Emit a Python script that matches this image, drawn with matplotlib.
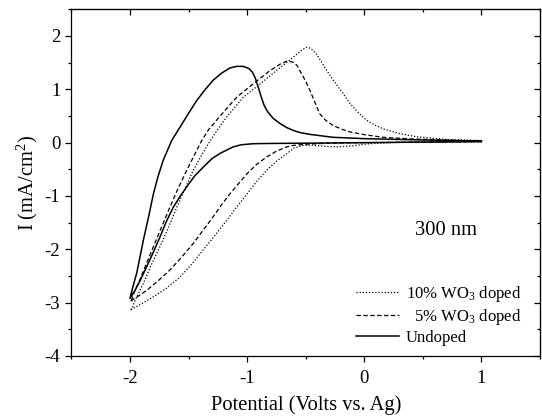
import matplotlib
matplotlib.use('Agg')
import matplotlib.pyplot as plt
from matplotlib.ticker import MultipleLocator

plt.rcParams['font.family'] = ['Liberation Serif', 'DejaVu Serif']
plt.rcParams['mathtext.fontset'] = 'custom'
plt.rcParams['mathtext.rm'] = 'Liberation Serif'
plt.rcParams['mathtext.it'] = 'Liberation Serif:italic'
plt.rcParams['axes.unicode_minus'] = False

# cyclic voltammograms, loop starts at +1 V, goes to -2 V and back
undoped_x = [1.0, 0.5, 0.0, -0.5, -0.8, -0.95, -1.05, -1.12, -1.23, -1.3, -1.375,
             -1.45, -1.516, -1.57, -1.63, -1.69, -1.744, -1.8, -1.858, -1.91, -1.957, -2.0,
             -1.975, -1.943, -1.915, -1.886, -1.84, -1.8, -1.76, -1.716, -1.644, -1.573,
             -1.5, -1.43, -1.36, -1.29, -1.22, -1.147, -1.09, -1.033, -0.985, -0.955,
             -0.93, -0.905, -0.88, -0.855, -0.825, -0.78, -0.72, -0.66, -0.607, -0.55,
             -0.464, -0.265, 0.0, 0.3, 0.6, 1.0]
undoped_y = [0.02, 0.01, 0.0, -0.01, -0.015, -0.02, -0.04, -0.08, -0.2, -0.3, -0.46,
             -0.63, -0.83, -1.0, -1.21, -1.48, -1.77, -2.05, -2.33, -2.57, -2.77, -2.92,
             -2.7, -2.45, -2.15, -1.83, -1.38, -0.96, -0.63, -0.33, 0.04, 0.29,
             0.55, 0.79, 0.99, 1.17, 1.3, 1.4, 1.43, 1.43, 1.39, 1.32,
             1.21, 1.04, 0.86, 0.7, 0.58, 0.46, 0.36, 0.28, 0.23, 0.19,
             0.155, 0.1, 0.075, 0.06, 0.045, 0.03]

doped5_x = [1.0, 0.5, 0.0, -0.3, -0.5, -0.6, -0.663, -0.75, -0.834, -0.92, -1.0,
            -1.07, -1.147, -1.22, -1.29, -1.375, -1.46, -1.56, -1.66, -1.76, -1.858,
            -1.93, -2.0,
            -1.986, -1.96, -1.915, -1.86, -1.8, -1.73, -1.659, -1.59, -1.516, -1.45,
            -1.39, -1.33, -1.23, -1.09, -0.95, -0.805, -0.72, -0.66, -0.607, -0.575,
            -0.55, -0.5, -0.464, -0.42, -0.38, -0.33, -0.265, -0.19, -0.12, 0.0,
            0.16, 0.4, 0.7, 1.0]
doped5_y = [0.02, 0.01, 0.0, -0.01, -0.03, -0.05, -0.08, -0.16, -0.27, -0.41, -0.58,
            -0.76, -0.96, -1.17, -1.39, -1.64, -1.89, -2.15, -2.39, -2.59, -2.77,
            -2.88, -2.98,
            -2.95, -2.78, -2.57, -2.27, -1.95, -1.58, -1.21, -0.86, -0.52, -0.23,
            0.03, 0.24, 0.5, 0.85, 1.1, 1.35, 1.47, 1.53, 1.51, 1.45,
            1.35, 1.15, 0.98, 0.75, 0.54, 0.42, 0.32, 0.25, 0.2, 0.15,
            0.1, 0.07, 0.05, 0.03]

doped10_x = [1.0, 0.6, 0.3, 0.1, 0.0, -0.1, -0.22, -0.33, -0.43, -0.52, -0.6,
             -0.663, -0.75, -0.834, -0.92, -1.0, -1.09, -1.175, -1.275, -1.375, -1.47,
             -1.573, -1.69, -1.8, -1.9, -2.0,
             -1.986, -1.95, -1.886, -1.82, -1.744, -1.67, -1.6, -1.53, -1.46, -1.4,
             -1.317, -1.26, -1.175, -1.033, -0.89, -0.75, -0.607, -0.53, -0.49, -0.46,
             -0.41, -0.34, -0.265, -0.19, -0.12, -0.05, 0.02, 0.09, 0.16, 0.3,
             0.45, 0.7, 1.0]
doped10_y = [0.02, 0.01, 0.005, -0.01, -0.03, -0.06, -0.08, -0.07, -0.05, -0.05, -0.1,
             -0.21, -0.35, -0.52, -0.73, -0.96, -1.21, -1.46, -1.74, -2.01, -2.27,
             -2.52, -2.73, -2.89, -3.02, -3.14,
             -3.12, -2.93, -2.64, -2.3, -1.95, -1.58, -1.21, -0.86, -0.52, -0.28,
             0.03, 0.22, 0.48, 0.85, 1.1, 1.35, 1.6, 1.74, 1.79, 1.77,
             1.67, 1.42, 1.17, 0.95, 0.73, 0.56, 0.42, 0.33, 0.26, 0.17,
             0.11, 0.06, 0.04]

labels = ['10% WO$_3$ doped', '  5% WO$_3$ doped', 'Undoped']

fig = plt.figure(figsize=(5.42, 4.16), dpi=100)
ax = fig.add_axes([71.4 / 542, 60 / 416, 468.6 / 542, 346.7 / 416])

ax.plot(doped10_x, doped10_y, color='black', lw=0.9, linestyle=(0, (1, 1.5)), label=labels[0])
ax.plot(doped5_x, doped5_y, color='black', lw=0.9, linestyle=(0, (3.5, 2)), label=labels[1])
ax.plot(undoped_x, undoped_y, color='black', lw=1.1, linestyle='-', label=labels[2])

ax.set_xlim(-2.5, 1.5)
ax.set_ylim(-4, 2.5)
ax.xaxis.set_major_locator(MultipleLocator(1))
ax.xaxis.set_minor_locator(MultipleLocator(0.5))
ax.yaxis.set_major_locator(MultipleLocator(1))
ax.yaxis.set_minor_locator(MultipleLocator(0.5))
ax.set_yticks([2, 1, 0, -1, -2, -3, -4])

for s in ax.spines.values():
    s.set_linewidth(0.9)
ax.tick_params(which='both', width=0.9, labelsize=13.5)
ax.tick_params(which='major', length=4.5)
ax.tick_params(which='minor', length=2.5)
ax.tick_params(which='both', direction='out', top=False, right=False)
ax.tick_params(axis='x', pad=5.5)
# inward ticks on the top and right sides
ax2 = ax.secondary_xaxis('top')
ax2.xaxis.set_major_locator(MultipleLocator(1))
ax2.xaxis.set_minor_locator(MultipleLocator(0.5))
ax2.tick_params(which='both', direction='in', labeltop=False, width=0.9)
ax2.tick_params(which='major', length=4.5)
ax2.tick_params(which='minor', length=2.5)
ax3 = ax.secondary_yaxis('right')
ax3.yaxis.set_major_locator(MultipleLocator(1))
ax3.yaxis.set_minor_locator(MultipleLocator(0.5))
ax3.tick_params(which='both', direction='in', labelright=False, width=0.9)
ax3.tick_params(which='major', length=4.5)
ax3.tick_params(which='minor', length=2.5)

ax.set_xlabel('Potential (Volts vs. Ag)', fontsize=14.8, labelpad=6)
ax.set_ylabel('I (mA/cm$^2$)', fontsize=14.8, labelpad=3)

ax.text(0.696, -1.64, '300 nm', fontsize=14.8, ha='center', va='center')

ax.legend(loc='upper left', bbox_to_anchor=(0.607, 0.209), frameon=False,
          fontsize=12, handlelength=2.6, handletextpad=0.4, labelspacing=0.2,
          borderpad=0, borderaxespad=0)

fig.savefig('out.png', dpi=100)
